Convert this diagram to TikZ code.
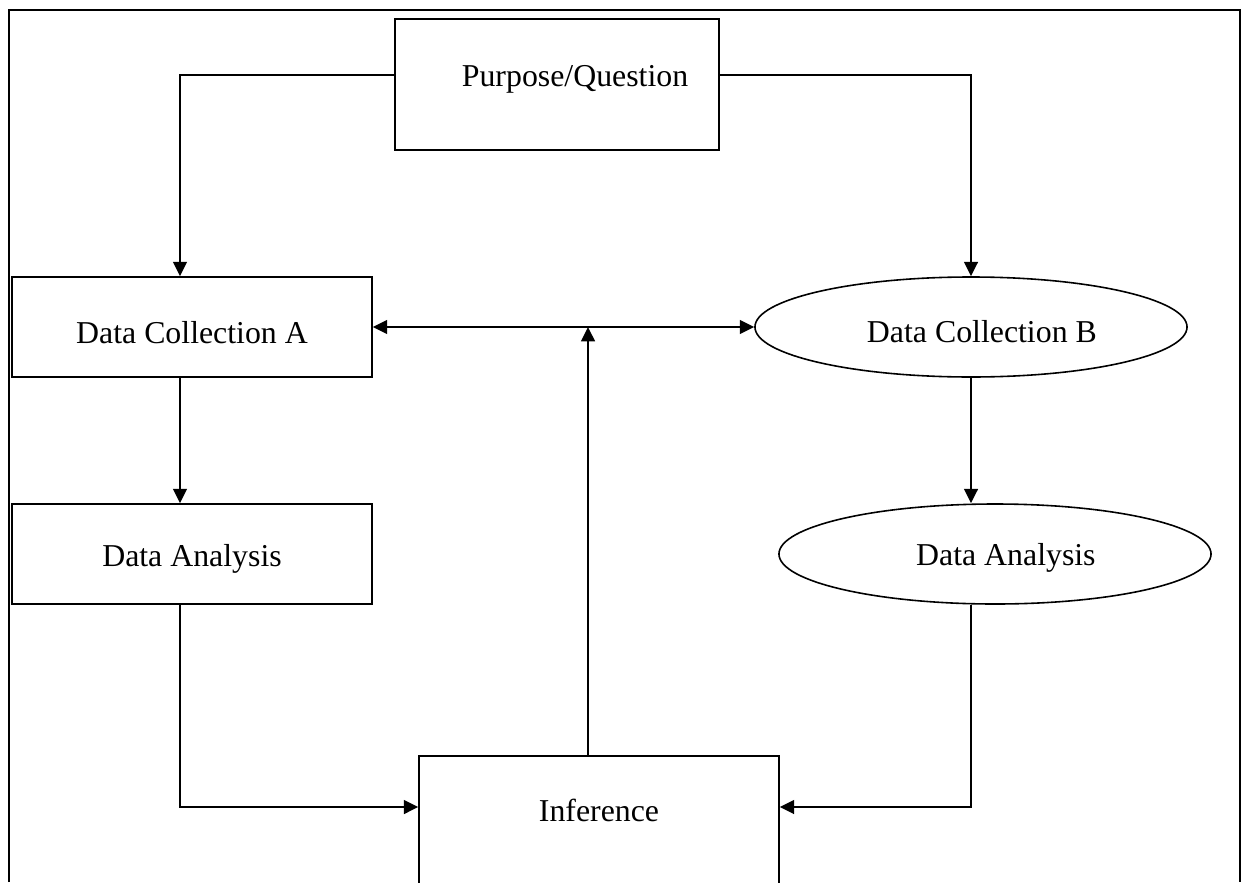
\documentclass[tikz,border=0pt,12pt]{standalone}
\usepackage{fontspec}
\setmainfont{Liberation Serif}
\usetikzlibrary{arrows.meta,positioning,calc,shapes.geometric}

\begin{document}
\begin{tikzpicture}[x=0.377pt,y=-0.377pt,>={Triangle[length=5.4pt,width=5.2pt]},
    box/.style={draw,line width=0.6pt,rectangle,inner sep=0pt},
    oval/.style={draw,line width=0.6pt,ellipse,inner sep=0pt,minimum width=162.9pt,minimum height=37.7pt},
    link/.style={line width=0.75pt}]
    \useasboundingbox (0,0) rectangle (1242,882);
    \clip (0,0) rectangle (1242,882);
    % page frame, open at the bottom
    \draw[line width=1pt] (9,882) -- (9,10) -- (1240,10) -- (1240,882);
    % shapes
    \node[box,minimum width=122.1pt,minimum height=49.4pt,
          label={[xshift=6.8pt,yshift=2.1pt]center:Purpose/Question}] (pq) at (557,84.5) {};
    \node[box,minimum width=135.7pt,minimum height=37.7pt,
          label={[yshift=-2pt]center:Data Collection A}] (dca) at (192,327) {};
    \node[box,minimum width=135.7pt,minimum height=37.7pt,
          label={[yshift=-1.8pt]center:Data Analysis}] (daa) at (192,554) {};
    \node[oval,label={[xshift=4.1pt,yshift=-1.6pt]center:Data Collection B}] (dcb) at (971,327) {};
    \node[oval,label={[xshift=4.1pt,yshift=-1.6pt]center:Data Analysis}] (dab) at (995,554) {};
    \node[box,minimum width=135.7pt,minimum height=75.4pt,
          label={[yshift=17.3pt]center:Inference}] (inf) at (599,856) {};
    \coordinate (mid) at (588,327);
    % connectors
    \draw[link,->] (pq.west |- 0,75) -| (dca.north -| 180,0);
    \draw[link,->] (pq.east |- 0,75) -| (dcb.north);
    \draw[link,<->] (dca.east) -- (dcb.west);
    \draw[link,->] (inf.north -| mid) -- (mid);
    \draw[link,->] (dca.south -| 180,0) -- (daa.north -| 180,0);
    \draw[link,->] (dcb.south) -- (dcb.south |- dab.north);
    \draw[link,->] (daa.south -| 180,0) |- (inf.west |- 0,807);
    \draw[link,->] (dab.south -| dcb.south) |- (inf.east |- 0,807);
\end{tikzpicture}
\end{document}
